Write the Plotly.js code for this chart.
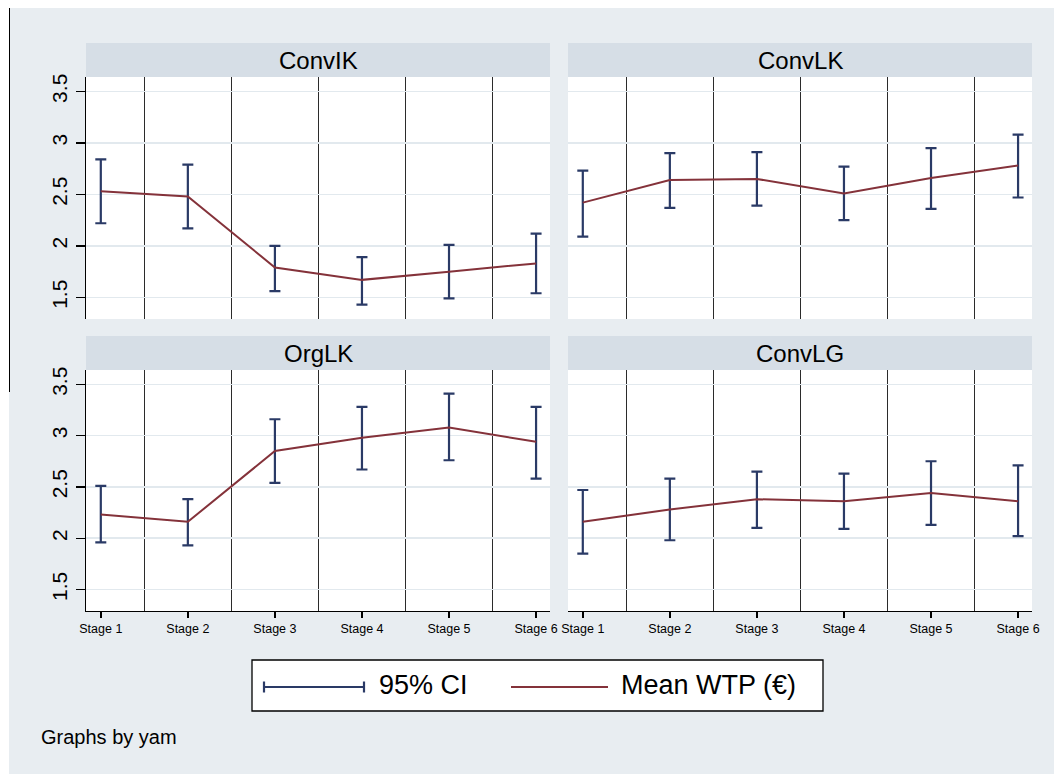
<!DOCTYPE html>
<html>
<head>
<meta charset="utf-8">
<script src="https://cdn.plot.ly/plotly-3.0.1.min.js"></script>
<style>
  html, body { margin: 0; padding: 0; background: #ffffff; }
  #chart { position: absolute; left: 9px; top: 8px; width: 1045px; height: 766px; }
  #edge { position: absolute; left: 9px; top: 8px; width: 1px; height: 384px; background: #000; z-index: 5; }
</style>
</head>
<body>
<div id="chart"></div>
<div id="edge"></div>
<script>
// ---- data ----
const stages = ['Stage 1', 'Stage 2', 'Stage 3', 'Stage 4', 'Stage 5', 'Stage 6'];

const convIK_mean = [2.53, 2.48, 1.79, 1.67, 1.75, 1.83];
const convIK_lo   = [2.22, 2.17, 1.56, 1.43, 1.49, 1.54];
const convIK_hi   = [2.84, 2.79, 2.00, 1.89, 2.01, 2.12];

const convLK_mean = [2.42, 2.64, 2.65, 2.51, 2.66, 2.78];
const convLK_lo   = [2.09, 2.37, 2.39, 2.25, 2.36, 2.47];
const convLK_hi   = [2.73, 2.90, 2.91, 2.77, 2.95, 3.08];

const orgLK_mean  = [2.23, 2.16, 2.85, 2.98, 3.08, 2.94];
const orgLK_lo    = [1.96, 1.93, 2.54, 2.67, 2.76, 2.58];
const orgLK_hi    = [2.51, 2.38, 3.16, 3.28, 3.41, 3.28];

const convLG_mean = [2.16, 2.28, 2.38, 2.36, 2.44, 2.36];
const convLG_lo   = [1.85, 1.98, 2.10, 2.09, 2.13, 2.02];
const convLG_hi   = [2.47, 2.58, 2.65, 2.63, 2.75, 2.71];

const panelNames = ['ConvIK', 'ConvLK', 'OrgLK', 'ConvLG'];
const yTicks = [1.5, 2, 2.5, 3, 3.5];
const legendLabels = ['95% CI', 'Mean WTP (€)'];
const byNote = 'Graphs by yam';

// ---- style ----
const NAVY = '#2a3a66';
const MAROON = '#84323a';
const BG = '#e8edf1';
const STRIP = '#d6dee6';
const FONT = 'Liberation Sans, Arial, Helvetica, sans-serif';

const W = 1045, H = 766;
const xpos = stages.map((s, i) => i + 1);
const halfPos = stages.slice(1).map((s, i) => i + 1.5);

const panels = [
  {mean: convIK_mean, lo: convIK_lo, hi: convIK_hi, xa: 'x',  ya: 'y'},
  {mean: convLK_mean, lo: convLK_lo, hi: convLK_hi, xa: 'x2', ya: 'y2'},
  {mean: orgLK_mean,  lo: orgLK_lo,  hi: orgLK_hi,  xa: 'x3', ya: 'y3'},
  {mean: convLG_mean, lo: convLG_lo, hi: convLG_hi, xa: 'x4', ya: 'y4'}
];

const traces = [];
panels.forEach(p => {
  traces.push({
    type: 'scatter', mode: 'markers', x: xpos, y: p.mean,
    xaxis: p.xa, yaxis: p.ya, showlegend: false, hoverinfo: 'skip',
    marker: {size: 1, color: 'rgba(0,0,0,0)'},
    error_y: {
      type: 'data', symmetric: false,
      array: p.hi.map((h, i) => h - p.mean[i]),
      arrayminus: p.lo.map((l, i) => p.mean[i] - l),
      color: NAVY, thickness: 2.2, width: 5.5
    }
  });
  traces.push({
    type: 'scatter', mode: 'lines', x: xpos, y: p.mean,
    xaxis: p.xa, yaxis: p.ya, showlegend: false,
    line: {color: MAROON, width: 2}
  });
});

// domains (pixel -> paper)
const px = v => v / W;
const py = v => 1 - v / H;
const xL = [px(77), px(541)];
const xR = [px(559), px(1023)];
const yT = [py(311), py(69)];
const yB = [py(603), py(362)];

const yRange = [1.29, 3.64];
const xRange = [0.83, 6.16];

function xAxis(domain, anchor, showLabels) {
  return {
    domain: domain, anchor: anchor, range: xRange, fixedrange: true,
    tickmode: 'array', tickvals: xpos, ticktext: stages,
    showgrid: false, zeroline: false,
    showline: showLabels, linecolor: '#000', linewidth: 1.3,
    ticks: showLabels ? 'outside' : '', ticklen: 6, tickwidth: 1.5, tickcolor: '#000',
    showticklabels: showLabels,
    tickfont: {family: FONT, size: 12.5, color: '#000'},
    minor: {tickmode: 'array', tickvals: halfPos, showgrid: true,
            gridcolor: '#2b2b2b', gridwidth: 1.5, ticks: ''}
  };
}
function yAxis(domain, anchor, showLabels) {
  return {
    domain: domain, anchor: anchor, range: yRange, fixedrange: true,
    tickmode: 'array', tickvals: yTicks, ticktext: yTicks.map(String),
    showgrid: true, gridcolor: '#e2e9ee', gridwidth: 1.5, zeroline: false,
    showline: showLabels, linecolor: '#000', linewidth: 1.3,
    ticks: showLabels ? 'outside' : '', ticklen: 9, tickwidth: 1.3, tickcolor: '#000',
    showticklabels: showLabels, tickangle: -90,
    tickfont: {family: FONT, size: 21, color: '#000'}
  };
}

const shapes = [];
const annotations = [];

// strips
const strips = [
  {x: xL, y: [py(69), py(35)], name: panelNames[0]},
  {x: xR, y: [py(69), py(35)], name: panelNames[1]},
  {x: xL, y: [py(362), py(328)], name: panelNames[2]},
  {x: xR, y: [py(362), py(328)], name: panelNames[3]}
];
strips.forEach(s => {
  shapes.push({type: 'rect', xref: 'paper', yref: 'paper',
    x0: s.x[0], x1: s.x[1], y0: s.y[0], y1: s.y[1],
    fillcolor: STRIP, line: {width: 0}, layer: 'below'});
  annotations.push({xref: 'paper', yref: 'paper',
    x: (s.x[0] + s.x[1]) / 2, y: (s.y[0] + s.y[1]) / 2,
    xanchor: 'center', yanchor: 'middle', showarrow: false,
    text: s.name, font: {family: FONT, size: 24, color: '#000'}});
});

// legend box
shapes.push({type: 'rect', xref: 'paper', yref: 'paper',
  x0: px(243), x1: px(814), y0: py(703), y1: py(652),
  fillcolor: '#ffffff', line: {color: '#000', width: 1.3}, layer: 'above'});
// CI symbol
shapes.push({type: 'line', xref: 'paper', yref: 'paper',
  x0: px(255), x1: px(355), y0: py(679), y1: py(679), line: {color: NAVY, width: 2.2}, layer: 'above'});
shapes.push({type: 'line', xref: 'paper', yref: 'paper',
  x0: px(255), x1: px(255), y0: py(673.5), y1: py(684.5), line: {color: NAVY, width: 2.2}, layer: 'above'});
shapes.push({type: 'line', xref: 'paper', yref: 'paper',
  x0: px(355), x1: px(355), y0: py(673.5), y1: py(684.5), line: {color: NAVY, width: 2.2}, layer: 'above'});
// mean symbol
shapes.push({type: 'line', xref: 'paper', yref: 'paper',
  x0: px(502), x1: px(599), y0: py(679), y1: py(679), line: {color: MAROON, width: 2.2}, layer: 'above'});

annotations.push({xref: 'paper', yref: 'paper', x: px(368), y: py(677),
  xanchor: 'left', yanchor: 'middle', showarrow: false,
  text: legendLabels[0], font: {family: FONT, size: 27, color: '#000'}});
annotations.push({xref: 'paper', yref: 'paper', x: px(610), y: py(677),
  xanchor: 'left', yanchor: 'middle', showarrow: false,
  text: legendLabels[1], font: {family: FONT, size: 27, color: '#000'}});
annotations.push({xref: 'paper', yref: 'paper', x: px(30), y: py(729),
  xanchor: 'left', yanchor: 'middle', showarrow: false,
  text: byNote, font: {family: FONT, size: 20, color: '#000'}});

const layout = {
  width: W, height: H,
  margin: {l: 0, r: 0, t: 0, b: 0},
  paper_bgcolor: BG, plot_bgcolor: '#ffffff',
  showlegend: false,
  xaxis:  xAxis(xL, 'y', false),
  yaxis:  yAxis(yT, 'x', true),
  xaxis2: xAxis(xR, 'y2', false),
  yaxis2: yAxis(yT, 'x2', false),
  xaxis3: xAxis(xL, 'y3', true),
  yaxis3: yAxis(yB, 'x3', true),
  xaxis4: xAxis(xR, 'y4', true),
  yaxis4: yAxis(yB, 'x4', false),
  shapes: shapes,
  annotations: annotations
};

Plotly.newPlot('chart', traces, layout, {displayModeBar: false, staticPlot: true});
</script>
</body>
</html>
